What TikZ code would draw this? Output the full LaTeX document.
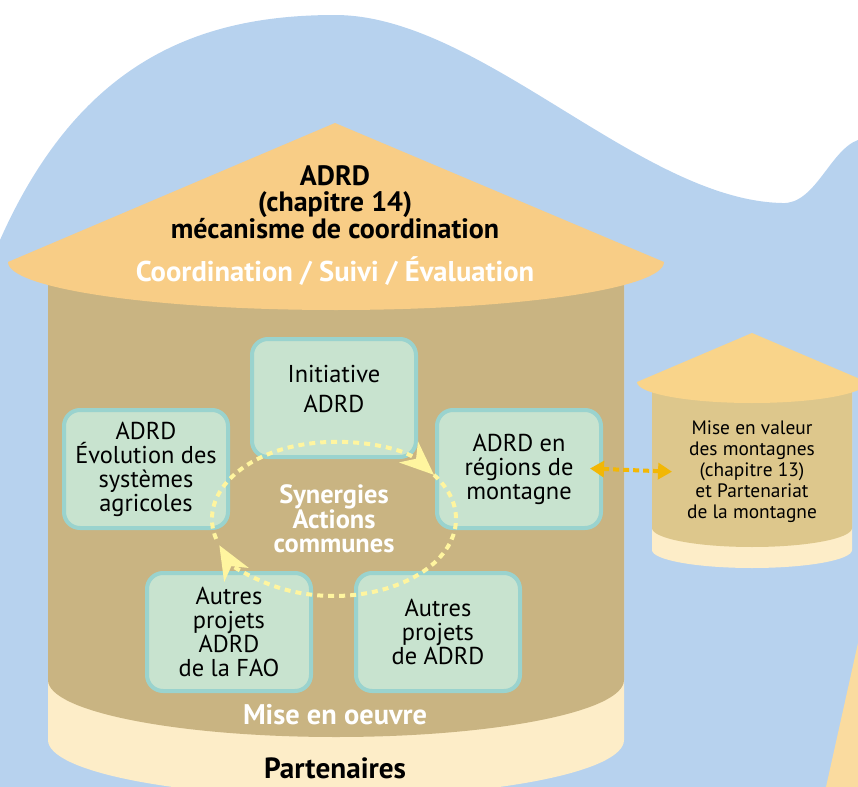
\documentclass[tikz,border=0pt]{standalone}
\usepackage{fontspec}
\setmainfont{PT Sans}
\usetikzlibrary{arrows.meta}
\definecolor{ciel}{HTML}{B7D2EE}
\definecolor{sable}{HTML}{FADB9F}
\definecolor{toit}{HTML}{F8CD86}
\definecolor{toitclair}{HTML}{F9D48A}
\definecolor{ocre}{HTML}{C9B482}
\definecolor{ocreclair}{HTML}{DDC78C}
\definecolor{creme}{HTML}{FDEDC8}
\definecolor{menthe}{HTML}{C8E3CF}
\definecolor{sarcelle}{HTML}{9AD3CE}
\definecolor{paille}{HTML}{FFF59F}
\definecolor{or}{HTML}{F2B705}
\begin{document}
\begin{tikzpicture}[x=0.5pt,y=-0.5pt,
	projet/.style={draw=sarcelle,fill=menthe,line width=2pt,rounded corners=8pt,minimum width=82pt,minimum height=59pt,align=center,font=\fontsize{12.2}{12}\selectfont},
	boucle/.style={draw=paille,line width=2pt,dash pattern=on 3pt off 2.5pt,-{Stealth[length=17pt,width=14pt,inset=5pt]}}]
	\useasboundingbox (0,0) rectangle (858,787);
	\clip (0,0) rectangle (858,787);
	% fond
	\fill[ciel] (0,787) -- (0,240) .. controls (80,60) and (200,15) .. (335,15) .. controls (480,15) and (640,200) .. (782,203) .. controls (815,205) and (830,150) .. (858,140) -- (858,787) -- cycle;
	\fill[sable] (826,787) -- (858,643) -- (858,787) -- cycle;
	% grand silo
	\fill[creme] (48,283) -- (48,740) arc[start angle=180,end angle=0,x radius=288,y radius=57] -- (624,283) -- cycle;
	\fill[ocre] (48,283) -- (48,680) arc[start angle=180,end angle=0,x radius=288,y radius=57] -- (624,283) -- cycle;
	\fill[toit] (8,262) -- (335,123) -- (664,262) arc[start angle=0,end angle=180,x radius=328,y radius=48] -- cycle;
	% petit silo
	\fill[creme] (652,390) -- (652,550) arc[start angle=180,end angle=0,x radius=100,y radius=18] -- (852,390) -- cycle;
	\fill[ocreclair] (652,390) -- (652,528) arc[start angle=180,end angle=0,x radius=100,y radius=19] -- (852,390) -- cycle;
	\fill[toitclair] (637,382) -- (752,333) -- (867,382) arc[start angle=0,end angle=180,x radius=115,y radius=21] -- cycle;
	% textes
	\node[font=\bfseries\fontsize{14}{13.25}\selectfont,align=center] (titre) at (335,202) {ADRD\\(chapitre 14)\\mécanisme de coordination};
	\node[white,font=\bfseries\fontsize{14.3}{14}\selectfont] (coord) at (335,271) {Coordination / Suivi / Évaluation};
	\node[white,font=\bfseries\fontsize{14.2}{14}\selectfont] (oeuvre) at (335,715) {Mise en oeuvre};
	\node[font=\bfseries\fontsize{14.6}{14}\selectfont] (part) at (335,768) {Partenaires};
	\node[align=center,font=\fontsize{9.7}{10.5}\selectfont] (mv) at (752,472) {Mise en valeur\\des montagnes\\(chapitre 13)\\et Partenariat\\de la montagne};
	% projets
	\node[projet,text depth=9pt] (init) at (334,398) {Initiative\\[3pt]ADRD};
	\node[projet] (evol) at (146,469) {ADRD\\Évolution des\\systèmes\\agricoles};
	\node[projet] (mont) at (519,469) {ADRD en\\régions de\\montagne};
	\node[projet] (fao) at (229,632) {Autres\\projets\\ADRD\\de la FAO};
	\node[projet] (autres) at (438,632) {Autres\\projets\\de ADRD};
	% synergies
	\node[white,font=\bfseries\fontsize{13.2}{12.25}\selectfont,align=center] (syn) at (334,519) {Synergies\\Actions\\communes};
	\draw[boucle] ([shift={(165:122 and 77)}]syn.center) arc[start angle=165,end angle=325,x radius=122,y radius=77];
	\draw[boucle] ([shift={(-35:122 and 77)}]syn.center) arc[start angle=-35,end angle=160,x radius=122,y radius=77];
	\draw[or,line width=2pt,dash pattern=on 3pt off 2pt,{Triangle[length=7pt,width=8pt]}-{Triangle[length=7pt,width=8pt]},shorten <=-6.5pt,shorten >=4pt] (mont.east) -- (mv.west);
\end{tikzpicture}
\end{document}
